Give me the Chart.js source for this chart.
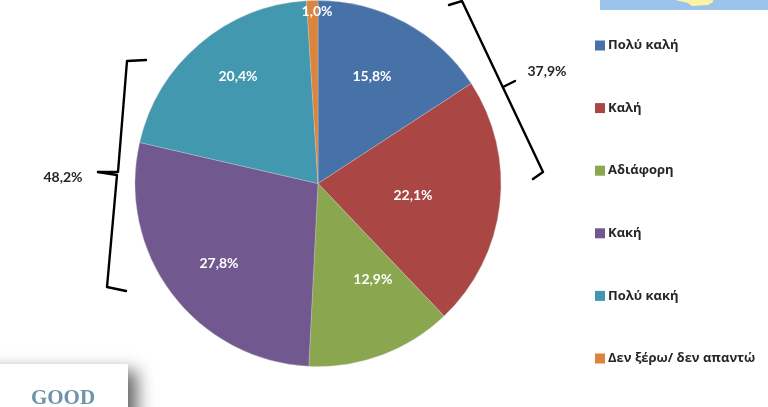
<!DOCTYPE html>
<html>
<head>
<meta charset="utf-8">
<title>Pie</title>
<script src="https://cdn.jsdelivr.net/npm/chart.js"></script>
<style>
    html, body { margin: 0; padding: 0; background: #fff; overflow: hidden; }
    #wrap { position: relative; width: 768px; height: 407px; }
</style>
</head>
<body>
<div id="wrap"><canvas id="pie"></canvas></div>
<script>
const categories = ['Πολύ καλή', 'Καλή', 'Αδιάφορη', 'Κακή', 'Πολύ κακή', 'Δεν ξέρω/ δεν απαντώ'];
const values = [15.8, 22.1, 12.9, 27.8, 20.4, 1.0];
const colors = ['#4672a8', '#aa4644', '#8aa64e', '#71588f', '#4198af', '#db843d'];
const groupLabels = ['37,9%', '48,2%'];
const logoText = 'GOOD';

const VALUE_FONT = 'bold 14px Lato, "Open Sans", sans-serif';
const LEGEND_FONT = 'bold 13px "Open Sans", sans-serif';
const TEXT_DARK = '#262626';
// label spot for each slice, as a fraction of the radius from the pie centre
const labelSpot = [[0.295, -0.585], [0.519, 0.066], [0.30, 0.525], [-0.541, 0.437], [-0.437, -0.585], [-0.005, -0.94]];

function formatValue(v) {
    return v.toFixed(1).replace('.', ',') + '%';
}

function drawPath(ctx, points) {
    ctx.beginPath();
    points.forEach((p, i) => i ? ctx.lineTo(p[0], p[1]) : ctx.moveTo(p[0], p[1]));
    ctx.stroke();
}

// map strip at the top right and the logo card at the bottom left
const backdropPlugin = {
    id: 'backdrop',
    beforeDraw(chart) {
        const ctx = chart.ctx;
        ctx.save();
        ctx.fillStyle = '#9cc4ea';
        ctx.fillRect(600, 0, 168, 10);
        ctx.fillStyle = '#fbf3a8';
        ctx.beginPath();
        ctx.moveTo(675, 0);
        ctx.lineTo(688, 3);
        ctx.lineTo(692, 6);
        ctx.lineTo(708, 5);
        ctx.lineTo(713, 2);
        ctx.lineTo(713, 0);
        ctx.closePath();
        ctx.fill();

        ctx.shadowColor = 'rgba(0,0,0,0.6)';
        ctx.shadowBlur = 16;
        ctx.shadowOffsetX = 9;
        ctx.shadowOffsetY = 7;
        ctx.fillStyle = '#fff';
        ctx.fillRect(-30, 364, 158, 70);
        ctx.restore();

        ctx.save();
        ctx.fillStyle = '#6f93a8';
        ctx.font = 'bold 21px "Liberation Serif", serif';
        ctx.textAlign = 'center';
        ctx.textBaseline = 'alphabetic';
        ctx.fillText(logoText, 63, 404);
        ctx.restore();
    }
};

// value labels, brackets and the legend column
const overlayPlugin = {
    id: 'overlay',
    afterDatasetsDraw(chart) {
        const ctx = chart.ctx;
        const arcs = chart.getDatasetMeta(0).data;
        ctx.save();
        ctx.font = VALUE_FONT;
        ctx.textAlign = 'center';
        ctx.textBaseline = 'middle';
        ctx.fillStyle = '#fff';
        arcs.forEach((arc, i) => {
            const spot = labelSpot[i];
            ctx.fillText(formatValue(values[i]), arc.x + spot[0] * arc.outerRadius, arc.y + spot[1] * arc.outerRadius);
        });

        ctx.strokeStyle = '#000';
        ctx.lineWidth = 2.4;
        ctx.lineJoin = 'round';
        ctx.lineCap = 'round';
        drawPath(ctx, [[449, 5], [462, 1], [543, 172], [533, 179]]);
        drawPath(ctx, [[503, 87], [515, 81]]);
        drawPath(ctx, [[146, 60], [127, 61], [118, 172], [98, 172]]);
        drawPath(ctx, [[98, 172], [117, 175], [107, 287], [126, 291]]);

        ctx.fillStyle = TEXT_DARK;
        ctx.fillText(groupLabels[0], 547, 71);
        ctx.fillText(groupLabels[1], 63, 177);

        ctx.font = LEGEND_FONT;
        ctx.textAlign = 'left';
        categories.forEach((name, i) => {
            const y = 45.5 + i * 62.6;
            ctx.fillStyle = colors[i];
            ctx.fillRect(595, y - 5, 10, 10);
            ctx.fillStyle = TEXT_DARK;
            ctx.fillText(name, 608, y);
        });
        ctx.restore();
    }
};

new Chart(document.getElementById('pie'), {
    type: 'pie',
    data: {
        labels: categories,
        datasets: [{
            data: values,
            backgroundColor: colors,
            borderWidth: 1,
            borderColor: 'rgba(200,200,200,0.4)',
            hoverOffset: 0
        }]
    },
    options: {
        responsive: true,
        maintainAspectRatio: false,
        animation: false,
        layout: { padding: { left: 134, right: 266, top: -1, bottom: 40 } },
        plugins: {
            legend: { display: false },
            tooltip: { enabled: false }
        }
    },
    plugins: [backdropPlugin, overlayPlugin]
});
</script>
</body>
</html>
